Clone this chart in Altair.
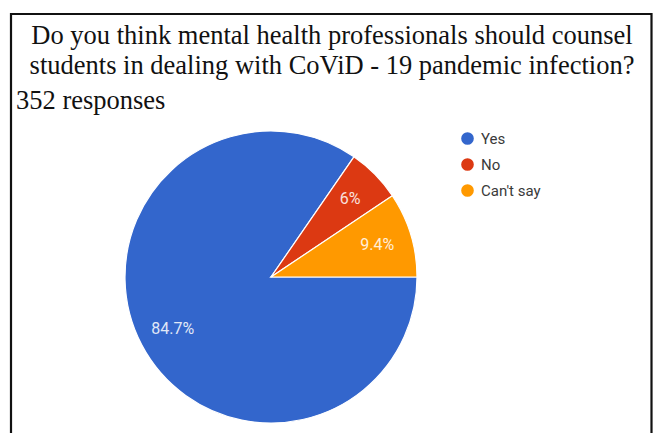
import altair as alt
import pandas as pd

categories = ["Yes", "No", "Can't say"]
values = [84.7, 6.0, 9.4]
labels = ["84.7%", "6%", "9.4%"]
colors = ["#3366CC", "#DC3912", "#FF9900"]
order_idx = [0, 1, 2]

title_lines = [
    "Do you think mental health professionals should counsel",
    "students in dealing with CoViD - 19 pandemic infection?",
]
subtitle = "352 responses"

df = pd.DataFrame({"cat": categories, "val": values, "lab": labels, "idx": order_idx})

W, H = 655, 433
CX, CY, R = 271, 277, 146
PI = 3.141592653589793

theta_scale = alt.Scale(range=[PI / 2, PI / 2 + 2 * PI])

base = alt.Chart(df).encode(
    theta=alt.Theta("val:Q", stack=True, scale=theta_scale),
    order=alt.Order("idx:Q"),
)

pie = base.mark_arc(outerRadius=R, stroke="white", strokeWidth=1.2).encode(
    x=alt.value(CX),
    y=alt.value(CY),
    color=alt.Color(
        "cat:N",
        scale=alt.Scale(domain=categories, range=colors),
        legend=alt.Legend(
            title=None,
            orient="none",
            legendX=460,
            legendY=131,
            symbolType="circle",
            symbolSize=160,
            symbolStrokeWidth=0,
            labelFont="Roboto",
            labelFontSize=15,
            labelColor="#3a3a3a",
            rowPadding=10,
            labelOffset=6,
        ),
    ),
)

text = base.mark_text(
    radius=111, font="Roboto", fontSize=16, color="white", opacity=0.85
).encode(
    x=alt.value(CX),
    y=alt.value(CY),
    text="lab:N",
)

tdf = pd.DataFrame({"t": title_lines, "y": [44, 74]})
title = alt.Chart(tdf).mark_text(
    font="Liberation Serif", fontSize=26.5, color="#111111", align="center", baseline="alphabetic"
).encode(
    x=alt.value(332),
    y=alt.Y("y:Q", scale=alt.Scale(domain=[0, H], range=[0, H]), axis=None),
    text="t:N",
)

sub = alt.Chart(pd.DataFrame({"t": [subtitle]})).mark_text(
    font="Liberation Serif", fontSize=26.5, color="#111111", align="left", baseline="alphabetic"
).encode(x=alt.value(16), y=alt.value(109), text="t:N")

frame = alt.Chart(pd.DataFrame({"a": [0]})).mark_rect(
    fill=None, stroke="#111111", strokeWidth=2.2
).encode(x=alt.value(11), x2=alt.value(651.5), y=alt.value(14), y2=alt.value(460))

chart = (
    alt.layer(frame, pie, text, title, sub)
    .properties(width=W, height=H, padding=0, autosize=alt.AutoSizeParams(type="none"))
    .configure_view(stroke=None)
)

chart.save("out.html", embed_options={"renderer": "svg", "actions": False})
